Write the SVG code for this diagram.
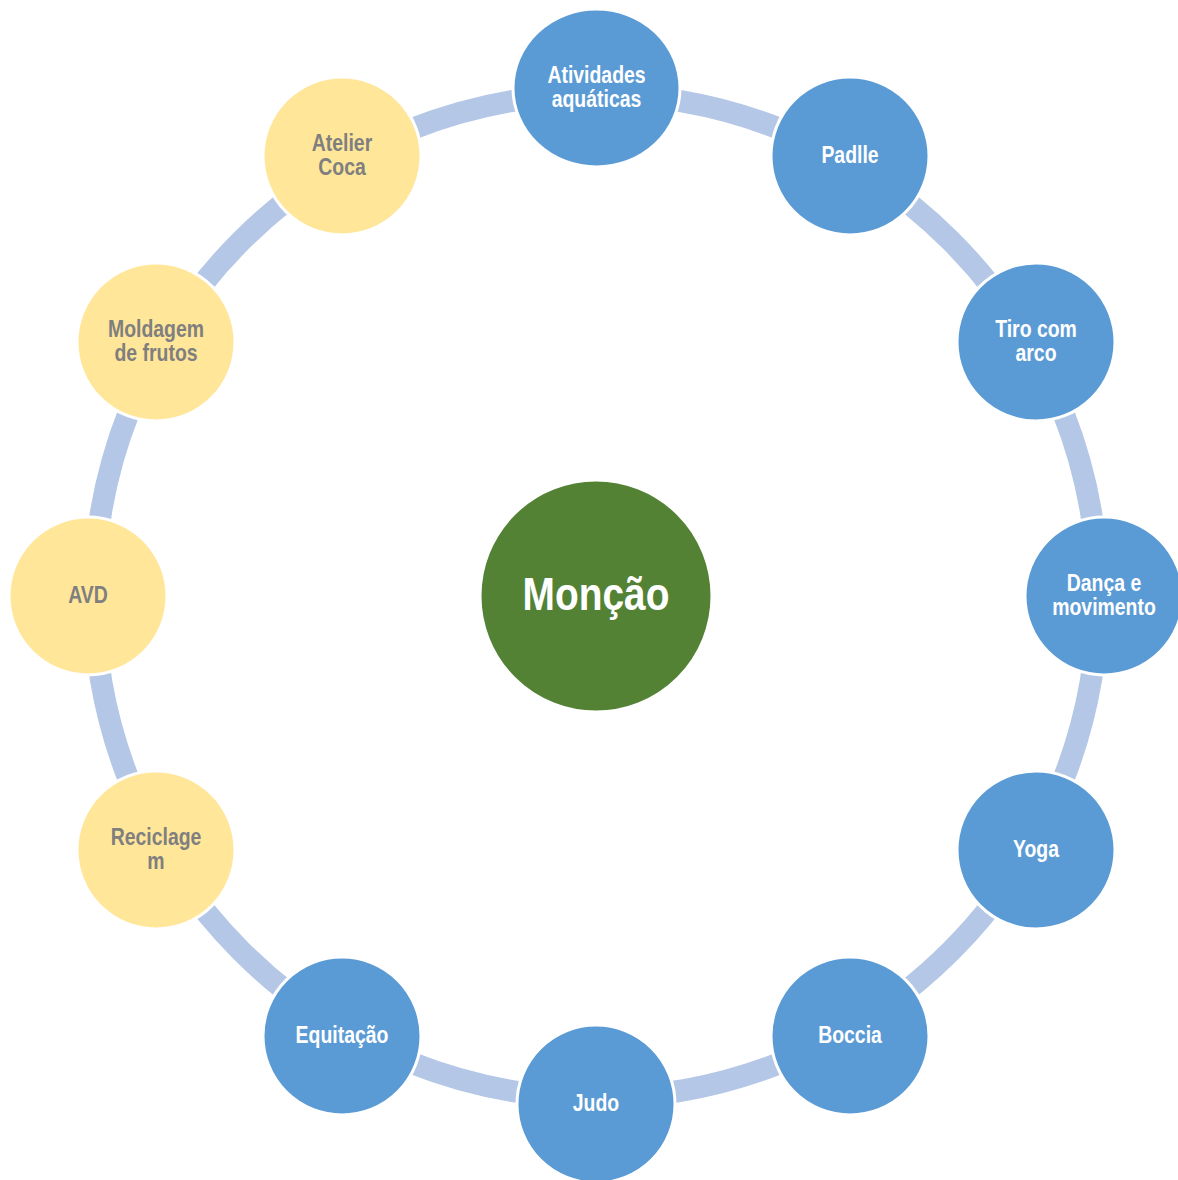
<svg xmlns="http://www.w3.org/2000/svg" width="1178" height="1180" viewBox="0 0 1178 1180">
<style>
.blue{fill:#5B9BD5;stroke:#FFFFFF;stroke-width:3}
.yellow{fill:#FFE699;stroke:#FFFFFF;stroke-width:3}
.center{fill:#548235;stroke:#FFFFFF;stroke-width:3}
text{font-family:"Liberation Sans",Arial,sans-serif;font-weight:bold;text-anchor:middle;font-size:23px}
.wt{fill:#FFFFFF}
.gt{fill:#7F7F7F}
.big{font-size:46px}
</style>
<rect width="1178" height="1180" fill="#FFFFFF"/>
<g id="connectors">
<circle cx="596" cy="596" r="502" fill="none" stroke="#B4C7E7" stroke-width="22"/>
</g>
<g id="center-moncao">
<circle class="center" cx="596" cy="596" r="116"/>
<text class="wt big" transform="translate(596 610) scale(0.845 1)">Monção</text>
</g>
<g id="node-atividades">
<ellipse class="blue" cx="596.5" cy="88" rx="83.5" ry="79"/>
<text class="wt" transform="translate(596.5 83) scale(0.845 1)">Atividades</text>
<text class="wt" transform="translate(596.5 107) scale(0.845 1)">aquáticas</text>
</g>
<g id="node-padlle">
<circle class="blue" cx="850" cy="156" r="79"/>
<text class="wt" transform="translate(850 163) scale(0.845 1)">Padlle</text>
</g>
<g id="node-tiro">
<circle class="blue" cx="1036" cy="342" r="79"/>
<text class="wt" transform="translate(1036 337) scale(0.845 1)">Tiro com</text>
<text class="wt" transform="translate(1036 361) scale(0.845 1)">arco</text>
</g>
<g id="node-danca">
<circle class="blue" cx="1104" cy="596" r="79"/>
<text class="wt" transform="translate(1104 591) scale(0.845 1)">Dança e</text>
<text class="wt" transform="translate(1104 615) scale(0.845 1)">movimento</text>
</g>
<g id="node-yoga">
<circle class="blue" cx="1036" cy="850" r="79"/>
<text class="wt" transform="translate(1036 857) scale(0.845 1)">Yoga</text>
</g>
<g id="node-boccia">
<circle class="blue" cx="850" cy="1036" r="79"/>
<text class="wt" transform="translate(850 1043) scale(0.845 1)">Boccia</text>
</g>
<g id="node-judo">
<circle class="blue" cx="596" cy="1104" r="79"/>
<text class="wt" transform="translate(596 1111) scale(0.845 1)">Judo</text>
</g>
<g id="node-equitacao">
<circle class="blue" cx="342" cy="1036" r="79"/>
<text class="wt" transform="translate(342 1043) scale(0.845 1)">Equitação</text>
</g>
<g id="node-reciclagem">
<circle class="yellow" cx="156" cy="850" r="79"/>
<text class="gt" transform="translate(156 845) scale(0.845 1)">Reciclage</text>
<text class="gt" transform="translate(156 869) scale(0.845 1)">m</text>
</g>
<g id="node-avd">
<circle class="yellow" cx="88" cy="596" r="79"/>
<text class="gt" transform="translate(88 603) scale(0.845 1)">AVD</text>
</g>
<g id="node-moldagem">
<circle class="yellow" cx="156" cy="342" r="79"/>
<text class="gt" transform="translate(156 337) scale(0.845 1)">Moldagem</text>
<text class="gt" transform="translate(156 361) scale(0.845 1)">de frutos</text>
</g>
<g id="node-atelier">
<circle class="yellow" cx="342" cy="156" r="79"/>
<text class="gt" transform="translate(342 151) scale(0.845 1)">Atelier</text>
<text class="gt" transform="translate(342 175) scale(0.845 1)">Coca</text>
</g>
</svg>
